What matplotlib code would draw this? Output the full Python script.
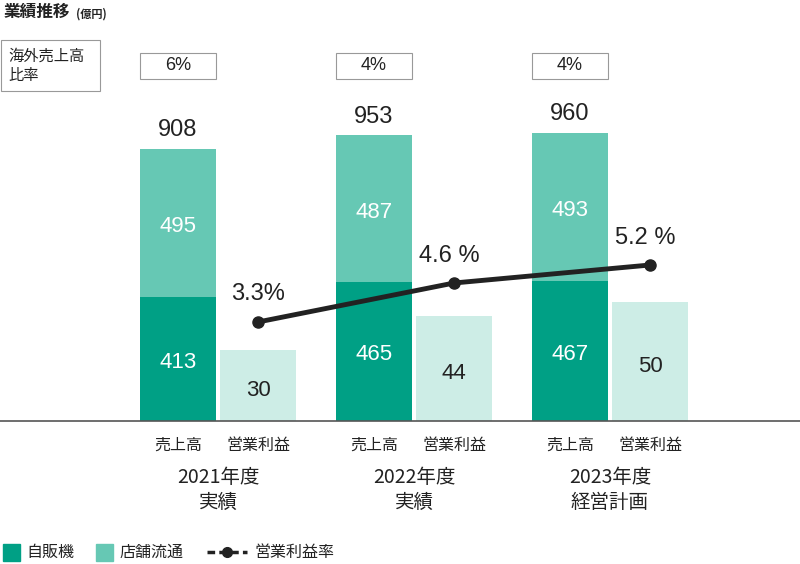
import matplotlib
matplotlib.use("Agg")
import matplotlib.pyplot as plt
from matplotlib.patches import Rectangle

plt.rcParams["font.family"] = "Noto Sans CJK JP"

years = ["2021年度\n実績", "2022年度\n実績", "2023年度\n経営計画"]
vending = [413, 465, 467]
retail = [495, 487, 493]
totals = [908, 953, 960]
profit = [30, 44, 50]
margin = [3.3, 4.6, 5.2]
margin_labels = ["3.3%", "4.6 %", "5.2 %"]
overseas = ["6%", "4%", "4%"]
bar_labels = ["売上高", "営業利益"]

W, H = 800, 564
base = 421
fig = plt.figure(figsize=(W/100, H/100), dpi=100)
rect = [0, (H-base)/H, 1, base/H]
ax = fig.add_axes(rect)
ax2 = fig.add_axes(rect, sharex=ax)
ax3 = fig.add_axes(rect, sharex=ax)
for a in (ax, ax2, ax3):
    a.set_axis_off()
    a.patch.set_alpha(0)
ax.set_xlim(0, W)
ax.set_ylim(0, base/0.3)
ax2.set_ylim(0, base/2.38)
ax3.set_ylim(0, base/30)

c1, c2, c3 = "#00A085", "#66C8B4", "#CDEDE6"
num = dict(family="Liberation Sans")
bw = 76
xs = [178 + 196*i for i in range(3)]
xp = [x + 80 for x in xs]
ax.bar(xs, vending, bw, color=c1)
ax.bar(xs, retail, bw, bottom=vending, color=c2)
ax2.bar(xp, profit, bw, color=c3)
for i in range(3):
    ax.text(xs[i], vending[i]/2 - 12, str(vending[i]), color="white", ha="center", va="center", fontsize=16, **num)
    ax.text(xs[i], vending[i]+retail[i]/2 - 12, str(retail[i]), color="white", ha="center", va="center", fontsize=16, **num)
    ax.text(xs[i], totals[i]+25, str(totals[i]), color="#222", ha="center", va="bottom", fontsize=17, **num)
    ax2.text(xp[i], profit[i]/2 - 2, str(profit[i]), color="#222", ha="center", va="center", fontsize=16, **num)
    ax3.text(xp[i]+(0 if i == 0 else -5), margin[i]+0.55, margin_labels[i], color="#222", ha="center", va="bottom", fontsize=17, **num)
ax3.plot(xp, margin, color="#222", lw=3.5, marker="o", ms=8, zorder=5)

fig.add_artist(plt.Line2D([0, 1], [(H-base)/H]*2, color="#555", lw=1.2))

def ft(xpx, ypx, s, **kw):
    fig.text(xpx/W, 1-ypx/H, s, **kw)

ft(4, 12, "業績推移", fontsize=12, fontweight="bold", va="center", color="#222")
ft(76, 14, "(億円)", fontsize=8, fontweight="bold", va="center", color="#222")
fig.add_artist(Rectangle((1/W, 1-91/H), 99/W, 51/H, fill=False, ec="#999", lw=0.8))
ft(8, 66, "海外売上高\n比率", fontsize=11, va="center", color="#222", linespacing=1.2)
for i in range(3):
    fig.add_artist(Rectangle(((xs[i]-38)/W, 1-79/H), 76/W, 26/H, fill=False, ec="#999", lw=0.8))
    ft(xs[i], 66, overseas[i], fontsize=13, ha="center", va="center", color="#222", **num)
    ft(xs[i], 445, bar_labels[0], fontsize=11.5, ha="center", va="center", color="#222")
    ft(xp[i], 445, bar_labels[1], fontsize=11.5, ha="center", va="center", color="#222")
    ft((xs[i]+xp[i])/2, 490, years[i], fontsize=14, ha="center", va="center", color="#222", linespacing=1.3)

fig.add_artist(Rectangle((3/W, 1-561/H), 17/W, 17/H, color=c1))
ft(26, 552, "自販機", fontsize=11.5, va="center", color="#222")
fig.add_artist(Rectangle((96/W, 1-561/H), 17/W, 17/H, color=c2))
ft(119, 552, "店舗流通", fontsize=11.5, va="center", color="#222")
fig.add_artist(plt.Line2D([207/W, 247/W], [1-552/H]*2, color="#222", lw=2.5, ls=(0, (2.2, 1.2))))
fig.add_artist(plt.Line2D([227/W], [1-552/H], color="#222", marker="o", ms=7))
ft(254, 552, "営業利益率", fontsize=11.5, va="center", color="#222")

fig.savefig("out.png", dpi=100)
